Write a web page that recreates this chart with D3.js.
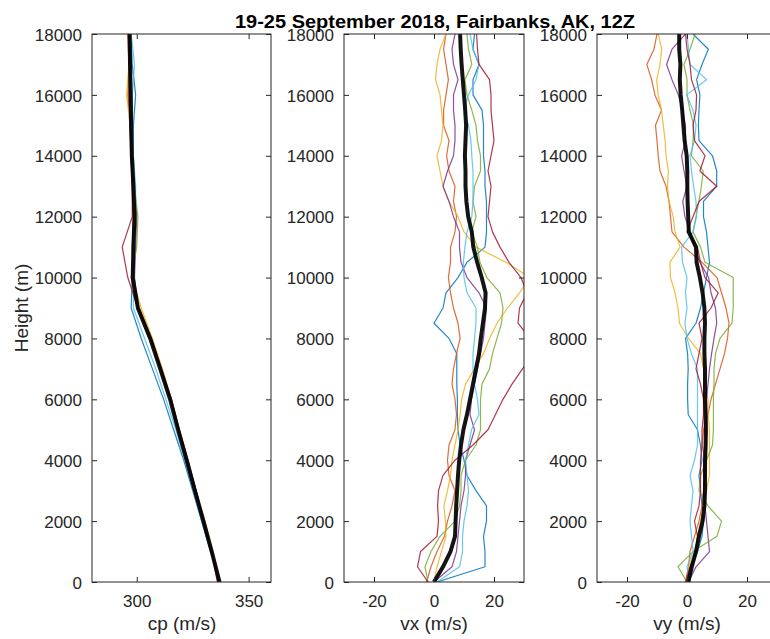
<!DOCTYPE html>
<html>
<head>
<meta charset="utf-8">
<script src="https://cdn.jsdelivr.net/npm/d3@7/dist/d3.min.js"></script>
<style>
  body { margin: 0; background: #fff; }
  text { font-family: "Liberation Sans", Arial, Helvetica, sans-serif; fill: #262626; }
</style>
</head>
<body>
<svg id="chart" width="770" height="639"></svg>
<script>
// heights (m) of the profile samples
var heightsCp = [0,1000,2000,3000,4000,5000,6000,7000,8000,9000,10000,11000,12000,13000,14000,15000,16000,17000,18000];
var heightsWind = [0,500,1000,1500,2000,2500,3000,3500,4000,4500,5000,5500,6000,6500,7000,7500,8000,8500,9000,
  9500,10000,10500,11000,11500,12000,12500,13000,13500,14000,14500,15000,15500,16000,16500,17000,17500,18000];

// one profile per day, 19..25 September
var days = ["19","20","21","22","23","24","25"];
var dayColors = ["#0072BD","#D95319","#EDB120","#7E2F8E","#77AC30","#4DBEEE","#A2142F"];

// cp (m/s)
var cpBlue   = [337.5,333,329,325,321,316.5,312,307,302,297.5,298,299,299.5,299,298.5,298.5,299.5,298,297.5];
var cpOrange = [336.5,333.5,330,326.5,322.5,318.7,315,311,306.5,301,298.5,298,298.5,298,297.5,297,296,296.5,296];
var cpYellow = [337,334,330.5,326.5,322.5,319,315.5,311.5,307,302,298,298.5,299,298.5,297.5,297,295.5,296.5,296.5];
var cpPurple = [337,333.5,329.5,326,322,318.5,315,310.5,306,300.5,299,299.5,300,299,298,297.5,297,297.5,297];
var cpGreen  = [336.8,333.5,330,326.5,322.5,319,315.5,311,306.5,300.5,297.5,300,300.5,299,298,297.5,297,297,297];
var cpLight  = [337.5,333,329,325.5,321.5,317.5,313,308.5,303.5,298.5,298.5,299,299.5,299.5,298.5,298,298,299,297.5];
var cpRed    = [336,333.5,330,326.5,323,319,315.5,311,306.5,300.5,296,293.5,298,298,297.5,297,296.5,297,296.5];
var cpMean   = [337,333.5,329.8,326,322.3,318.5,314.9,310.5,306,300.5,298.2,298.5,299,298.5,297.8,297.5,297.3,297,296.8];

// vx (m/s)
var vxBlue   = [1,17,17,16.5,17.5,17.5,14,11,10,8.7,8,7.8,7.8,7.6,7.6,7.6,5,0,3,4,8,11,17,17.5,17.5,17.5,17,17,16.5,16.5,16.5,16,13,13,15,13,13.5];
var vxOrange = [-2.5,-1,1,3.5,4.5,6,7,5,4.5,5,7,7.5,7,6,6.5,7.5,8.7,8,6.5,5.5,4.8,5.5,5.5,7,7.5,6.5,7,5,4.2,5,3.2,3.2,4,4.8,4,3.2,4];
var vxYellow = [0,1,2.5,4,3.8,3.3,4.5,5.5,6,7,8,8.7,9.2,10.5,13.5,16.5,18.5,21,24.5,28.5,32,24,14,10,8,5,3,2,1,2.5,3,2.5,2,0.5,1,2,4];
var vxPurple = [0,6,7.5,8,8.5,9,10,10.5,10.5,12,13.5,12,12.5,13.5,14.5,15.5,16.5,17,17.5,15,11,9,8.5,8.5,6.5,5,3,4.5,6.5,7,7,6.5,6.5,8,6.5,6,7];
var vxGreen  = [-2,-3,-1,2,7,8.5,9,9,10.5,14,15.5,15.5,15.5,16,18.5,19.5,21,22.5,23,22,17.6,15.3,14.5,12.6,14,13,13.5,15.5,15.5,14.5,14,12.6,11,10.3,12.6,11.5,11];
var vxLight  = [1,8.5,9.5,9.5,10,11,11.5,11,10.5,11.5,12.5,15,14.5,13.5,13,13,13.5,14,14,11,10,9.8,10.3,11,12.6,13,13,13,12.6,12.3,11.5,10,11.5,14,15,13,12];
var vxRed    = [-2,-5.5,-4.5,1,1.5,1.2,1.5,3,7,13,18,20.5,23,26,29.5,33,32,28,28.5,31,29,25,22,19.5,18,18.5,19,18,19,20,19.5,19,19,18.5,15,14.5,14.2];
var vxMean   = [0,3,5.5,7,7.2,7.4,7.7,8,8.4,9,9.8,11,12,13,14,15,15.6,16.3,17,17.2,15.9,14.4,13.1,12.6,11.4,10.8,10.5,10.5,10.3,10.5,10.7,10.4,10,9.6,9.2,8.9,8.7];

// vy (m/s)
var vyBlue   = [1,1.5,3.5,5,5.5,5,4.5,4,5,4.5,3.5,0.4,0.2,0.2,0.4,0.2,-0.5,3,4.5,5.5,6.5,7.5,7,6.5,5.5,5.5,9.9,9.9,8.5,4,3.8,4,4.3,3.2,5,7.1,2];
var vyOrange = [-0.5,0.5,1,2.5,4,5,5.5,6,6,5,5.5,7,8,9.5,11,12.5,13.5,14,13,11.5,10,5,-1,-5,-5.5,-6,-7,-9,-9.6,-10,-10.5,-8.5,-10.7,-11.8,-13.4,-11,-10];
var vyYellow = [0,0.5,2.5,3.5,4.5,5.5,6.5,7.5,7.5,7.5,7.5,7,7,6,5.5,4.5,0.5,-2.5,-3,-4,-5.5,-5.7,-2.3,-4,-4.6,-6,-6.5,-6.2,-7,-7.3,-7.9,-8.5,-9.6,-10.1,-9,-8.4,-9.6];
var vyPurple = [0.5,3,7.5,7,6.5,6,5.5,6,6.5,6.5,6.5,6.5,6.5,7,7.5,8.2,9,9.9,9.5,8,7.2,4.3,2.5,1,-0.7,-1.4,0,-1,-1.8,-0.5,-0.5,-1.5,-2.9,-5,-6.8,-5,-0.5];
var vyGreen  = [0,-3,2,10,11.5,7,4,4.5,6.5,8.5,8.8,8.8,8.8,9,9,9.5,11,15,15.4,15.4,15.4,6,4.5,2,3,4,4.8,5.4,1.5,2,2.2,1,0,0,-1,1,2.7];
var vyLight  = [1,0,2,1.5,1,1.5,2,1,2.5,3.5,3.5,3.5,3.5,3.5,3.5,1.5,0,-0.7,0,-0.5,0,-1.5,-1.8,2,3.2,3,2.2,1.5,1,2.5,3,2,-0.1,6.5,1,0.5,0];
var vyRed    = [-0.5,1,3,3.5,2.5,4,4.5,4.5,4.5,5,5,5.5,5.5,4.5,3,4,5,4,8,10.4,6,4.5,3.5,0,2,4,9.9,4.3,6,2.5,2,3,3.2,1.5,1,0,-0.5];
var vyMean   = [0.4,1.6,3,4,5.2,5.8,6,6,6,6.2,6.3,6.2,6,6,6,5.8,5.8,6,5.8,5.2,4.3,3.2,3,0.6,0.4,0.2,0.1,0.1,-0.1,-0.8,-1.2,-1.6,-2.1,-2.4,-2.2,-2.6,-2.6];

// tick labels
var heightTicks = [0,2000,4000,6000,8000,10000,12000,14000,16000,18000];
var cpTicks = [300,350];
var windTicks = [-20,0,20];

var titleText = "19-25 September 2018, Fairbanks, AK, 12Z";
var yLabel = "Height (m)";

(function () {
  // layout
  var plotTop = 34, plotBottom = 582, tickLen = 5;
  var plain = function (d) { return String(d); };

  var panels = [
    {name: "cp", label: "cp (m/s)", left: 92, width: 179, domain: [280, 360], ticks: cpTicks,
     heights: heightsCp, profiles: [cpBlue, cpOrange, cpYellow, cpPurple, cpGreen, cpLight, cpRed], mean: cpMean},
    {name: "vx", label: "vx (m/s)", left: 344, width: 180, domain: [-30, 30], ticks: windTicks,
     heights: heightsWind, profiles: [vxBlue, vxOrange, vxYellow, vxPurple, vxGreen, vxLight, vxRed], mean: vxMean},
    {name: "vy", label: "vy (m/s)", left: 597, width: 180, domain: [-30, 30], ticks: windTicks,
     heights: heightsWind, profiles: [vyBlue, vyOrange, vyYellow, vyPurple, vyGreen, vyLight, vyRed], mean: vyMean}
  ];

  var svg = d3.select("#chart");
  var y = d3.scaleLinear().domain([0, 18000]).range([plotBottom, plotTop]);

  panels.forEach(function (p) {
    var x = d3.scaleLinear().domain(p.domain).range([p.left, p.left + p.width]);
    var g = svg.append("g").attr("class", "panel-" + p.name);

    g.append("clipPath").attr("id", "clip-" + p.name)
      .append("rect")
      .attr("x", p.left).attr("y", plotTop)
      .attr("width", p.width).attr("height", plotBottom - plotTop);

    var line = d3.line()
      .x(function (d) { return x(d[0]); })
      .y(function (d) { return y(d[1]); });

    var lines = g.append("g").attr("clip-path", "url(#clip-" + p.name + ")");

    p.profiles.forEach(function (vals, i) {
      lines.append("path")
        .datum(d3.zip(vals, p.heights))
        .attr("d", line)
        .attr("fill", "none")
        .attr("stroke", dayColors[i])
        .attr("stroke-width", 1.2)
        .attr("stroke-opacity", 0.85)
        .attr("stroke-linejoin", "round");
    });

    lines.append("path")
      .datum(d3.zip(p.mean, p.heights))
      .attr("d", line)
      .attr("fill", "none")
      .attr("stroke", "#000")
      .attr("stroke-width", 4)
      .attr("stroke-opacity", 0.92)
      .attr("stroke-linejoin", "round");

    // box
    g.append("rect")
      .attr("x", p.left).attr("y", plotTop)
      .attr("width", p.width).attr("height", plotBottom - plotTop)
      .attr("fill", "none").attr("stroke", "#262626").attr("stroke-width", 1);

    // y axis (left) and mirrored ticks (right)
    var ga = g.append("g").attr("transform", "translate(" + p.left + ",0)")
      .call(d3.axisLeft(y).tickValues(heightTicks).tickFormat(plain)
        .tickSizeInner(-tickLen).tickSizeOuter(0).tickPadding(10));
    var gr = g.append("g").attr("transform", "translate(" + (p.left + p.width) + ",0)")
      .call(d3.axisRight(y).tickValues(heightTicks).tickFormat("")
        .tickSizeInner(-tickLen).tickSizeOuter(0));

    // x axis (bottom) and mirrored ticks (top)
    var gx = g.append("g").attr("transform", "translate(0," + plotBottom + ")")
      .call(d3.axisBottom(x).tickValues(p.ticks).tickFormat(plain)
        .tickSizeInner(-tickLen).tickSizeOuter(0));
    var gt = g.append("g").attr("transform", "translate(0," + plotTop + ")")
      .call(d3.axisTop(x).tickValues(p.ticks).tickFormat("")
        .tickSizeInner(-tickLen).tickSizeOuter(0));

    [ga, gr, gx, gt].forEach(function (a) {
      a.attr("font-family", null).attr("font-size", null);
      a.select(".domain").remove();
      a.selectAll(".tick line").attr("stroke", "#262626");
      a.selectAll(".tick text")
        .attr("font-size", 17)
        .attr("fill", "#262626");
    });
    gx.selectAll(".tick text").attr("dy", null).attr("y", 24.5);
    ga.selectAll(".tick text").attr("dy", "0.36em");

    g.append("text")
      .attr("x", p.left + 90)
      .attr("y", 630)
      .attr("text-anchor", "middle")
      .attr("font-size", 19)
      .text(p.label);
  });

  svg.append("text")
    .attr("transform", "translate(28,308) rotate(-90)")
    .attr("text-anchor", "middle")
    .attr("font-size", 19)
    .text(yLabel);

  svg.append("text")
    .attr("x", 435)
    .attr("y", 27.5)
    .attr("text-anchor", "middle")
    .attr("font-size", 18.5)
    .attr("font-weight", "bold")
    .style("fill", "#000")
    .attr("textLength", 400)
    .attr("lengthAdjust", "spacingAndGlyphs")
    .text(titleText);
})();
</script>
</body>
</html>
